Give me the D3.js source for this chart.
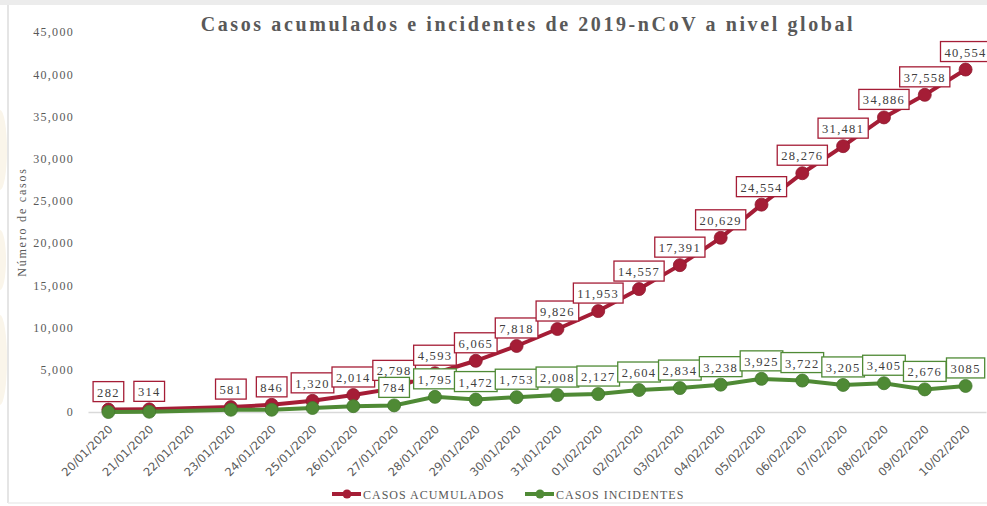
<!DOCTYPE html>
<html>
<head>
<meta charset="utf-8">
<script src="https://cdn.jsdelivr.net/npm/d3@7"></script>
<style>
  body { margin: 0; background: #fff; }
  svg { display: block; }
</style>
</head>
<body>
<script>
const fechas = ['20/01/2020', '21/01/2020', '22/01/2020', '23/01/2020', '24/01/2020', '25/01/2020',
    '26/01/2020', '27/01/2020', '28/01/2020', '29/01/2020', '30/01/2020', '31/01/2020',
    '01/02/2020', '02/02/2020', '03/02/2020', '04/02/2020', '05/02/2020', '06/02/2020',
    '07/02/2020', '08/02/2020', '09/02/2020', '10/02/2020'];

// 22/01 has no data in the source
const acumulados = [282, 314, null, 581, 846, 1320, 2014, 2798, 4593, 6065, 7818, 9826,
    11953, 14557, 17391, 20629, 24554, 28276, 31481, 34886, 37558, 40554];

const incidentes = [0, 32, null, 267, 265, 474, 694, 784, 1795, 1472, 1753, 2008,
    2127, 2604, 2834, 3238, 3925, 3722, 3205, 3405, 2676, 3085];

// only these incident labels are visible in the picture
const etiquetasIncidentes = [null, null, null, null, null, null, null, '784', '1,795', '1,472', '1,753', '2,008',
    '2,127', '2,604', '2,834', '3,238', '3,925', '3,722', '3,205', '3,405', '2,676', '3085'];

const yTicks = [0, 5000, 10000, 15000, 20000, 25000, 30000, 35000, 40000, 45000];

const width = 987;
const height = 506;
const rojo = '#a51d36';
const verde = '#4f8a35';

const svg = d3.select('body')
    .append('svg')
    .attr('width', width)
    .attr('height', height);

// frame
svg.append('rect').attr('x', 0).attr('y', 0).attr('width', width).attr('height', 5).attr('fill', '#ececec');
svg.append('line').attr('x1', 8).attr('x2', 8).attr('y1', 5).attr('y2', 503)
    .attr('stroke', '#dcdcdc').attr('stroke-width', 1.5);
svg.append('line').attr('x1', 8).attr('x2', width).attr('y1', 503).attr('y2', 503)
    .attr('stroke', '#ececec').attr('stroke-width', 1.5);

// faint watermark shapes at the left edge
[[0, 150, 7, 40], [0, 260, 6, 30], [0, 360, 7, 45]].forEach(b => {
    svg.append('ellipse').attr('cx', b[0]).attr('cy', b[1]).attr('rx', b[2]).attr('ry', b[3])
        .attr('fill', '#faf5ea');
});

const xScale = d3.scaleBand()
    .domain(fechas)
    .range([88, 986]);

const yScale = d3.scaleLinear()
    .domain([0, 45000])
    .range([412, 32]);

const cx = d => xScale(d) + xScale.bandwidth() / 2;

// title
svg.append('text')
    .attr('x', 528)
    .attr('y', 31)
    .attr('text-anchor', 'middle')
    .attr('font-family', 'Liberation Serif')
    .attr('font-weight', 'bold')
    .attr('font-size', 20)
    .attr('letter-spacing', 2.6)
    .attr('fill', '#595959')
    .text('Casos acumulados e incidentes de 2019-nCoV a nivel global');

// y axis
const yAxis = d3.axisLeft(yScale)
    .tickValues(yTicks)
    .tickFormat(d3.format(','))
    .tickSize(0)
    .tickPadding(0);

const gy = svg.append('g')
    .attr('transform', 'translate(74, 0)')
    .call(yAxis);
gy.select('.domain').remove();
gy.selectAll('text')
    .attr('font-family', 'Liberation Serif')
    .attr('font-size', 12)
    .attr('letter-spacing', 1.3)
    .attr('fill', '#595959');

svg.append('text')
    .attr('transform', 'translate(26, 222) rotate(-90)')
    .attr('text-anchor', 'middle')
    .attr('font-family', 'Liberation Serif')
    .attr('font-size', 12)
    .attr('letter-spacing', 1.8)
    .attr('fill', '#595959')
    .text('Número de casos');

// x axis
const xAxis = d3.axisBottom(xScale)
    .tickSize(0)
    .tickPadding(0);

const gx = svg.append('g')
    .attr('transform', `translate(0, ${yScale(0)})`)
    .call(xAxis);
gx.select('.domain')
    .attr('stroke', '#d9d9d9')
    .attr('stroke-width', 1.5);
gx.selectAll('text')
    .attr('font-family', 'DejaVu Sans')
    .attr('font-size', 11.5)
    .attr('fill', '#595959')
    .attr('text-anchor', 'end')
    .attr('dy', 0)
    .attr('transform', 'translate(5, 18) rotate(-45)');

// series
const series = [
    { values: acumulados, color: rojo, labels: acumulados.map(v => v == null ? null : d3.format(',')(v)) },
    { values: incidentes, color: verde, labels: etiquetasIncidentes }
];

const line = d3.line()
    .x(d => cx(d.fecha))
    .y(d => yScale(d.v));

series.forEach(s => {
    const pts = fechas.map((f, i) => ({ fecha: f, v: s.values[i], label: s.labels[i] }))
        .filter(d => d.v != null);
    svg.append('path')
        .datum(pts)
        .attr('fill', 'none')
        .attr('stroke', s.color)
        .attr('stroke-width', 4)
        .attr('d', line);
    svg.append('g')
        .selectAll('circle')
        .data(pts)
        .enter()
        .append('circle')
        .attr('cx', d => cx(d.fecha))
        .attr('cy', d => yScale(d.v))
        .attr('r', 6.5)
        .attr('fill', s.color)
        .attr('stroke', d3.color(s.color).darker(0.4))
        .attr('stroke-width', 0.8);
});

// data labels, green drawn last so it sits on top
series.forEach(s => {
    const pts = fechas.map((f, i) => ({ fecha: f, v: s.values[i], label: s.labels[i] }))
        .filter(d => d.v != null && d.label != null);
    const g = svg.append('g')
        .selectAll('g')
        .data(pts)
        .enter()
        .append('g')
        .attr('transform', d => `translate(${cx(d.fecha)}, ${yScale(d.v) - 8})`);
    const rects = g.append('rect')
        .attr('fill', '#fff')
        .attr('stroke', s.color)
        .attr('stroke-width', 1.3);
    const texts = g.append('text')
        .attr('text-anchor', 'middle')
        .attr('y', -5)
        .attr('font-family', 'Liberation Serif')
        .attr('font-size', 12.5)
        .attr('letter-spacing', 1.3)
        .attr('fill', '#404040')
        .text(d => d.label);
    texts.each(function(d, i) {
        const w = this.getComputedTextLength() + 8;
        d3.select(rects.nodes()[i])
            .attr('x', -w / 2)
            .attr('y', -20)
            .attr('width', w)
            .attr('height', 20);
    });
});

// legend
const legend = [
    { name: 'CASOS ACUMULADOS', color: rojo, x: 332 },
    { name: 'CASOS INCIDENTES', color: verde, x: 525 }
];
const lg = svg.append('g')
    .selectAll('g')
    .data(legend)
    .enter()
    .append('g')
    .attr('transform', d => `translate(${d.x}, 494)`);
lg.append('line')
    .attr('x1', 0).attr('x2', 29)
    .attr('stroke', d => d.color)
    .attr('stroke-width', 4);
lg.append('circle')
    .attr('cx', 15)
    .attr('r', 4.5)
    .attr('fill', d => d.color);
lg.append('text')
    .attr('x', 31)
    .attr('y', 4.5)
    .attr('font-family', 'Liberation Serif')
    .attr('font-size', 12)
    .attr('letter-spacing', 1)
    .attr('fill', '#595959')
    .text(d => d.name);
</script>
</body>
</html>
